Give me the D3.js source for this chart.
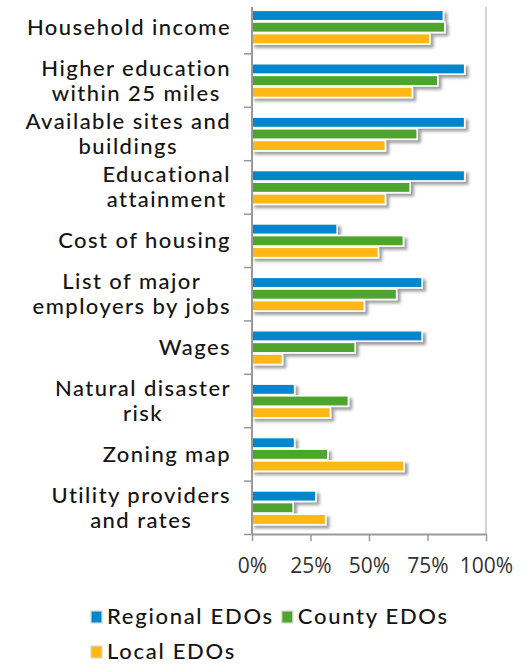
<!DOCTYPE html>
<html>
<head>
<meta charset="utf-8">
<script src="https://cdn.jsdelivr.net/npm/d3@7"></script>
<style>
  html, body { margin: 0; padding: 0; background: #fff; }
  svg { display: block; }
  .cat { font-family: Lato, "Open Sans", sans-serif; font-size: 22px; font-weight: 500; letter-spacing: 1.45px; fill: #141414; }
  .tick text { font-family: "Open Sans", sans-serif; font-size: 21px; fill: #333; }
  .leg { font-family: Lato, "Open Sans", sans-serif; font-size: 22px; font-weight: 500; letter-spacing: 1.7px; fill: #141414; }
</style>
</head>
<body>
<svg id="chart" width="531" height="664"></svg>
<script>
// Share of EDOs providing each type of data, by organisation type (%)
const categories = [
  "Household income",
  "Higher education\nwithin 25 miles",
  "Available sites and\nbuildings",
  "Educational\nattainment",
  "Cost of housing",
  "List of major\nemployers by jobs",
  "Wages",
  "Natural disaster\nrisk",
  "Zoning map",
  "Utility providers\nand rates"
];
const regional = [81.8, 90.9, 90.9, 90.9, 36.4, 72.7, 72.7, 18.2, 18.2, 27.3];
const county   = [82.4, 79.4, 70.6, 67.6, 64.7, 61.8, 44.1, 41.2, 32.4, 17.6];
const local    = [76.0, 68.5, 57.0, 57.0, 54.0, 48.0, 13.0, 33.5, 65.0, 31.5];
const seriesNames = ["Regional EDOs", "County EDOs", "Local EDOs"];
const seriesColors = ["#0086cd", "#4fa42f", "#fdb815"];
const xTicks = [0, 25, 50, 75, 100];

const series = [regional, county, local];
const svg = d3.select("#chart");

const x = d3.scaleLinear().domain([0, 100]).range([252, 486]);
const y = d3.scaleBand().domain(categories).range([0, 534]);
const ySub = d3.scaleBand().domain(seriesNames).range([0, 35]);

// soft drop shadow under each bar
const defs = svg.append("defs");
const f = defs.append("filter").attr("id", "shadow")
  .attr("x", "-10%").attr("y", "-50%").attr("width", "130%").attr("height", "250%");
f.append("feDropShadow").attr("dx", 3).attr("dy", 3).attr("stdDeviation", 1.7)
  .attr("flood-color", "#000").attr("flood-opacity", 0.38);

// right border line at 100%
svg.append("line")
  .attr("x1", x(100)).attr("x2", x(100)).attr("y1", 7).attr("y2", y.range()[1])
  .attr("stroke", "#c4c4c4").attr("stroke-width", 1.5);

// bars
const groups = svg.append("g").selectAll("g")
  .data(categories)
  .join("g")
  .attr("transform", c => `translate(0,${y(c) + y.bandwidth() / 2 - 17.5 + 0.5})`);

groups.selectAll("rect")
  .data((c, i) => series.map((s, k) => ({ name: seriesNames[k], value: s[i], color: seriesColors[k] })))
  .join("rect")
  .attr("x", x(0))
  .attr("y", d => ySub(d.name) + 0.6)
  .attr("width", d => x(d.value) - x(0))
  .attr("height", ySub.bandwidth() - 1.2)
  .attr("fill", d => d.color)
  .attr("stroke", "#fff")
  .attr("stroke-width", 1.6)
  .attr("filter", "url(#shadow)");

// bottom axis
const xAxis = svg.append("g")
  .attr("transform", `translate(0,${y.range()[1]})`)
  .call(d3.axisBottom(x).tickValues(xTicks).tickFormat(d => d + "%")
    .tickSize(7).tickSizeOuter(0).tickPadding(17));
xAxis.select(".domain").attr("stroke", "#999").attr("stroke-width", 2);
xAxis.selectAll(".tick line").attr("stroke", "#999").attr("stroke-width", 1.5);

// left axis: line plus ticks between categories
const yBoundary = d3.scaleLinear().domain([0, categories.length]).range(y.range());
const yAxis = svg.append("g")
  .attr("transform", `translate(${x(0)},0)`)
  .call(d3.axisLeft(yBoundary).tickValues(d3.range(1, categories.length + 1))
    .tickFormat("").tickSize(8).tickSizeOuter(0));
yAxis.select(".domain").remove();
yAxis.selectAll(".tick line").attr("stroke", "#999").attr("stroke-width", 1.5);
svg.append("line")
  .attr("x1", x(0)).attr("x2", x(0)).attr("y1", 7).attr("y2", y.range()[1] + 1)
  .attr("stroke", "#999").attr("stroke-width", 2);

// category labels: each block right-aligned, lines centred within it
const labelRight = 231;
const lineGap = 25;
categories.forEach(c => {
  const lines = c.split("\n");
  const cy = y(c) + y.bandwidth() / 2;
  const g = svg.append("g");
  const texts = lines.map((ln, i) => g.append("text")
    .attr("class", "cat")
    .attr("y", cy + (i - (lines.length - 1) / 2) * lineGap)
    .attr("dy", "0.36em")
    .attr("text-anchor", "middle")
    .text(ln));
  const w = d3.max(texts, t => t.node().getComputedTextLength());
  texts.forEach(t => t.attr("x", labelRight - w / 2));
});

// legend
const legend = svg.append("g");
const legendRows = [[0, 1], [2]];
legendRows.forEach((row, r) => {
  let lx = 91;
  const by = 624 + r * 35;
  row.forEach(k => {
    legend.append("rect")
      .attr("x", lx).attr("y", by - 13).attr("width", 11).attr("height", 12)
      .attr("fill", seriesColors[k]).attr("stroke", "#d8d8d8").attr("stroke-width", 1.2);
    const t = legend.append("text").attr("class", "leg")
      .attr("x", lx + 16).attr("y", by).text(seriesNames[k]);
    lx += 16 + t.node().getComputedTextLength() + 8;
  });
});
</script>
</body>
</html>
